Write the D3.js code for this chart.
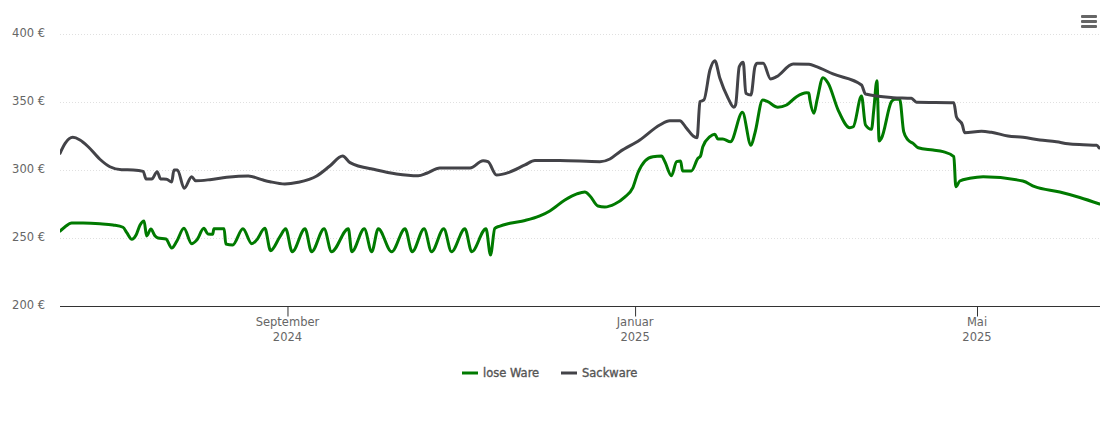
<!DOCTYPE html>
<html><head><meta charset="utf-8">
<script src="https://cdn.jsdelivr.net/npm/d3@7/dist/d3.min.js"></script>
<style>html,body{margin:0;padding:0;background:#fff}svg{display:block}text{font-family:"DejaVu Sans",sans-serif}</style>
</head><body><div id="chart"></div>
<script>
const seriesNames = ["lose Ware", "Sackware"];
const seriesColors = ["#007a00", "#434348"];
const yTicks = [200, 250, 300, 350, 400];
const xTickDates = [[2024,8,1,"September","2024"],[2025,0,1,"Januar","2025"],[2025,4,1,"Mai","2025"]];
// days since the start of the chart, euro values
const looseDays = [0,1.8,4.1,8.1,14,18.6,22.1,23.5,25.2,26.7,28.1,29.5,30.4,31.9,33.3,34.4,37.2,39.2,40.9,43.5,46.2,48,50.5,51.9,53.6,54,57.6,58.2,60.6,64.2,67.3,69,71.9,73.9,77.2,79.2,81.5,86,88.3,92.7,95.3,101.2,102.4,106.8,109.4,111.7,116.4,121.1,123.6,127.8,130.4,134.7,137.4,142.1,144.5,149.5,151.1,152.6,154.4,157.9,163.2,168.4,171.9,177.2,181.4,184.2,186,188.8,191.2,194.7,198.2,201,202.8,205.3,208.1,211.1,212.3,214.6,216.4,217.8,218.5,221.6,223.9,224.8,225.6,228.1,229.8,230.9,232.6,235.3,239.5,242.5,243.9,246.6,248.4,251.9,255,258.5,262,262.8,263.2,264.6,265.7,267.8,269.6,273.1,277.2,278.4,281.3,282.7,284.8,285.6,286.7,287.5,288.3,291.8,293,294.7,296.1,297.6,299.4,301.2,306.4,309.9,313.7,314.4,315.8,319.3,324,337.9,342.1,350.9,357.9,364.9];
const looseValues = [255.1,258.3,261,261,260.5,259.6,257.9,253.7,249,252.2,259.6,262.5,251.5,256.6,251.7,250,249.3,242.6,247.3,257.1,245.8,248.5,257.1,252.9,252.7,256.8,256.8,245.6,244.9,256.8,245.8,248.5,257.1,240.7,251,256.8,239.9,256.8,239.9,256.8,239.9,256.8,239.9,256.8,239.9,256.8,239.9,256.8,239.9,256.8,239.9,256.8,239.9,256.8,239.9,256.8,237.5,257.1,258.8,260.8,262.9,266.2,269.9,277.9,282.4,283.8,280.9,273.5,272.8,275,280.1,286.8,297.8,306.6,309.8,310.3,306.1,295.8,306.1,306.6,299.3,299.3,308.6,310.3,317.1,324.5,326.3,322.8,322.8,320.8,342.4,318.2,327.2,351.5,350.2,346.1,347.8,353.9,356.8,356.6,351.5,341.7,351.5,367.9,363.8,344.1,331.1,331.8,354.4,333.1,329.9,344.1,365.7,321.3,323.3,350.2,352,352,328.2,322.1,319.6,316.4,314.7,313.5,309.8,287.7,291.9,293.9,295.1,291.9,287.7,283.8,279.8,275];
const sackDays = [0,1.8,4.5,7,9.9,14,17.5,21.6,25.7,29.2,30.2,32.2,34.1,35.3,37.4,39.2,40,41.2,43.6,46.2,47.6,52.6,58.5,66.1,71.3,73.7,78.9,83.6,90.1,94.7,99.2,101.8,111.1,118.1,125.7,128.7,133.3,143.9,148.5,150.2,153.2,157.6,163.2,166.7,175.4,189.5,193,196.5,203.5,210.5,214,217.5,219.9,222.2,223.6,224.6,226,228.1,229.8,231.6,234.5,236.5,237.1,238.4,239.8,240.7,242.5,243.9,244.7,246.8,249.4,251.5,257.3,262.9,265.5,271.3,281.3,282.7,292.4,298.8,300.6,313.7,314.6,316.7,317.5,323.4,326.9,332.7,338,343.9,349.7,353.8,359.1,363.8,364.7];
const sackValues = [312.3,319.6,324,322.1,317.1,307.9,302.4,300.2,300,299,293.4,293.4,298.8,293.4,293.2,291.2,300,300,286.5,295.1,292.1,292.9,294.6,295.6,292.6,291.4,289.7,291,295.6,302.9,310.3,305.4,300,297.1,295.8,297.6,301.5,301.5,306.8,306.1,296.3,298.3,303.7,307,307,306.1,308.1,313.5,322.1,333.1,336.3,336.3,330.7,325,323.8,350.2,351.5,373.5,380.4,367.4,352.7,346.1,347.8,376,379.2,356.4,355.1,376,378.5,378.5,366.9,368.6,377.9,377.7,376,370.6,362.5,355.9,353.2,352.7,349.8,349.5,339.2,333.1,327.4,328.5,327.7,325,324,322.1,320.8,319.3,318.6,318.2,316.2];

const W = 1110, H = 423;
const startDate = new Date(2024,5,13,4);
const dayMs = 864e5;
const toDate = d => new Date(+startDate + d*dayMs);
const x = d3.scaleTime().domain([startDate, toDate(365)]).range([60,1100]);
const y = d3.scaleLinear().domain([200,400]).range([306,34]);
const svg = d3.select("#chart").append("svg").attr("width",W).attr("height",H);

svg.append("g").selectAll("line").data(yTicks.slice(1)).join("line")
  .attr("x1",60).attr("x2",1100).attr("y1",d=>y(d)+.5).attr("y2",d=>y(d)+.5)
  .attr("stroke","#e0e0e0").attr("stroke-width",1).attr("stroke-dasharray","1,2");
svg.append("g").selectAll("text").data(yTicks).join("text")
  .attr("x",45).attr("y",d=>y(d)+3).attr("text-anchor","end")
  .attr("font-size",11.5).attr("fill","#666").text(d=>d+" €");

const tickVals = xTickDates.map(t=>new Date(t[0],t[1],t[2]));
const ax = svg.append("g").attr("transform","translate(0,306.5)")
  .call(d3.axisBottom(x).tickValues(tickVals).tickSize(10).tickFormat(""));
ax.select(".domain").attr("stroke","#333").attr("d","M60,0H1100");
ax.selectAll(".tick line").attr("stroke","#333");
const labs = svg.append("g").selectAll("g").data(xTickDates).join("g")
  .attr("transform",t=>`translate(${x(new Date(t[0],t[1],t[2]))},0)`);
labs.append("text").attr("y",326).attr("text-anchor","middle").attr("font-size",11.5).attr("fill","#666").text(t=>t[3]);
labs.append("text").attr("y",341).attr("text-anchor","middle").attr("font-size",11.5).attr("fill","#666").text(t=>t[4]);

const line = d3.line().x(p=>x(toDate(p[0]))).y(p=>y(p[1])).curve(d3.curveMonotoneX);
svg.append("clipPath").attr("id","plot").append("rect").attr("x",60).attr("y",0).attr("width",1040).attr("height",306);
const g = svg.append("g").attr("clip-path","url(#plot)");
[[looseDays,looseValues],[sackDays,sackValues]].forEach((s,i)=>{
  g.append("path").datum(s[0].map((d,k)=>[d,s[1][k]])).attr("d",line)
   .attr("fill","none").attr("stroke",seriesColors[i]).attr("stroke-width",3)
   .attr("stroke-linejoin","round").attr("stroke-linecap","round");
});

const legend = svg.append("g").selectAll("g").data(seriesNames).join("g")
  .attr("transform",(d,i)=>`translate(${[462,561][i]},373)`);
legend.append("line").attr("x1",0).attr("x2",16).attr("y1",0).attr("y2",0)
  .attr("stroke",(d,i)=>seriesColors[i]).attr("stroke-width",3);
legend.append("text").attr("x",21).attr("y",4).attr("font-size",11.5)
  .attr("fill","#555").attr("stroke","#555").attr("stroke-width",.35).text(d=>d);

svg.append("g").selectAll("rect").data([0,1,2]).join("rect")
  .attr("x",1081).attr("y",d=>15+d*5).attr("width",16).attr("height",3).attr("rx",1).attr("fill","#666");
</script></body></html>
